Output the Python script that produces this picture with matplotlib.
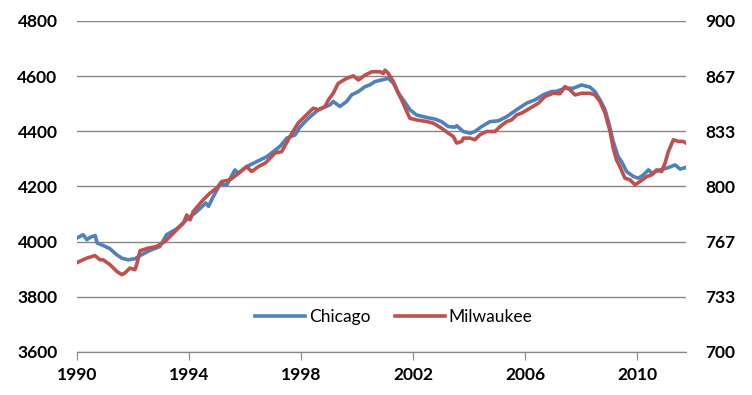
import matplotlib.pyplot as plt
from matplotlib.ticker import FixedLocator

# Chicago (left axis)
chi_year = [1990.0, 1990.22, 1990.35, 1990.5, 1990.65, 1990.72, 1990.93, 1991.18, 1991.42,
            1991.6, 1991.82, 1992.07, 1992.3, 1992.6, 1992.96, 1993.2, 1993.56, 1993.9,
            1994.28, 1994.6, 1994.7, 1994.85, 1995.1, 1995.35, 1995.64, 1995.76, 1996.06,
            1996.42, 1996.78, 1997.01, 1997.25, 1997.49, 1997.79, 1997.96, 1998.26, 1998.62,
            1999.04, 1999.15, 1999.39, 1999.63, 1999.81, 2000.05, 2000.29, 2000.46, 2000.64,
            2000.88, 2001.12, 2001.3, 2001.48, 2001.65, 2001.89, 2002.13, 2002.49, 2002.79,
            2003.02, 2003.26, 2003.5, 2003.56, 2003.8, 2004.04, 2004.21, 2004.45, 2004.75,
            2005.05, 2005.35, 2005.7, 2006.06, 2006.36, 2006.65, 2006.95, 2007.13, 2007.43,
            2007.73, 2008.02, 2008.32, 2008.5, 2008.68, 2008.86, 2009.01, 2009.15, 2009.33,
            2009.45, 2009.63, 2009.87, 2010.05, 2010.23, 2010.41, 2010.53, 2010.82, 2011.06,
            2011.36, 2011.54, 2011.75]
chicago = [4013, 4025, 4007, 4017, 4022, 3995, 3986, 3974, 3952,
           3940, 3934, 3938, 3952, 3968, 3982, 4025, 4046, 4078,
           4109, 4140, 4128, 4160, 4206, 4206, 4260, 4248, 4272,
           4290, 4308, 4326, 4345, 4375, 4387, 4415, 4447, 4478,
           4496, 4508, 4490, 4508, 4532, 4544, 4562, 4568, 4580,
           4586, 4592, 4574, 4538, 4514, 4478, 4459, 4450, 4444,
           4435, 4417, 4415, 4420, 4399, 4393, 4399, 4417, 4435,
           4438, 4453, 4478, 4502, 4514, 4532, 4544, 4545, 4556,
           4556, 4568, 4560, 4544, 4514, 4478, 4423, 4363, 4308,
           4290, 4254, 4236, 4230, 4242, 4260, 4248, 4260, 4266,
           4278, 4263, 4269]

# Milwaukee (right axis)
mil_year = [1990.0, 1990.35, 1990.64, 1990.82, 1990.93, 1991.18, 1991.42, 1991.6, 1991.71,
            1991.89, 1992.07, 1992.13, 1992.25, 1992.54, 1992.84, 1993.14, 1993.44, 1993.8,
            1993.92, 1994.04, 1994.15, 1994.5, 1994.75, 1994.99, 1995.17, 1995.46, 1995.7,
            1996.06, 1996.24, 1996.48, 1996.71, 1996.78, 1997.07, 1997.31, 1997.61, 1997.9,
            1998.26, 1998.44, 1998.62, 1998.86, 1998.98, 1999.15, 1999.33, 1999.63, 1999.87,
            2000.05, 2000.29, 2000.53, 2000.82, 2000.94, 2001.0, 2001.12, 2001.3, 2001.48,
            2001.65, 2001.78, 2001.89, 2002.13, 2002.49, 2002.73, 2003.02, 2003.26, 2003.44,
            2003.56, 2003.74, 2003.8, 2004.04, 2004.21, 2004.39, 2004.63, 2004.93, 2005.11,
            2005.35, 2005.52, 2005.7, 2005.88, 2006.18, 2006.48, 2006.71, 2007.0, 2007.25,
            2007.43, 2007.61, 2007.79, 2008.02, 2008.32, 2008.5, 2008.68, 2008.86, 2009.04,
            2009.15, 2009.27, 2009.39, 2009.57, 2009.75, 2009.93, 2010.11, 2010.35, 2010.53,
            2010.7, 2010.88, 2011.0, 2011.12, 2011.3, 2011.48, 2011.66, 2011.75]
milwaukee = [754.0, 756.7, 758.2, 755.7, 755.7, 752.7, 748.7, 746.7, 747.7,
             750.7, 749.7, 752.7, 761.2, 762.7, 763.7, 766.7, 771.8, 777.8,
             782.8, 779.8, 784.8, 791.8, 796.0, 799.0, 803.0, 804.0, 807.0,
             812.0, 809.0, 812.0, 814.0, 815.0, 820.2, 821.0, 830.2, 838.3,
             844.3, 847.3, 846.3, 848.3, 852.3, 856.3, 862.3, 865.3, 866.8,
             864.3, 867.3, 869.3, 869.3, 868.3, 870.3, 868.3, 863.3, 856.3,
             850.3, 845.2, 841.2, 840.2, 839.2, 838.2, 835.2, 832.2, 830.2,
             826.2, 827.2, 829.2, 829.2, 828.2, 831.2, 833.2, 833.2, 836.2,
             839.2, 840.2, 843.2, 844.3, 847.3, 850.3, 854.3, 856.3, 856.0,
             860.3, 858.3, 855.3, 856.3, 856.3, 855.3, 851.3, 844.3, 833.2,
             823.2, 816.0, 812.0, 805.0, 804.0, 801.0, 803.0, 806.0, 807.0,
             810.0, 809.0, 814.0, 821.0, 828.2, 827.2, 827.2, 826.2]

x_ticks = [1990, 1994, 1998, 2002, 2006, 2010]
left_ticks = [3600, 3800, 4000, 4200, 4400, 4600, 4800]
right_ticks = [700 + 200 * k / 6 for k in range(7)]

plt.rcParams['font.family'] = ['Lato', 'DejaVu Sans']

fig = plt.figure(figsize=(7.52, 3.95), dpi=100)
ax = fig.add_axes([0.1024, 0.109, 0.8098, 0.838])
ax2 = ax.twinx()

blue = '#4F81BD'
red = '#C0504D'

l1, = ax.plot(chi_year, chicago, color=blue, lw=2.6, label='Chicago', solid_joinstyle='round')
l2, = ax2.plot(mil_year, milwaukee, color=red, lw=2.6, label='Milwaukee', solid_joinstyle='round')

ax.set_xlim(1990, 2011.75)
ax.set_ylim(3600, 4800)
ax2.set_ylim(700, 900)

ax.yaxis.set_major_locator(FixedLocator(left_ticks))
ax2.yaxis.set_major_locator(FixedLocator(right_ticks))
ax2.set_yticklabels([f'{v:.0f}' for v in right_ticks])
ax.set_xticks(x_ticks)

ax.grid(axis='y', color='#868686', lw=1)
ax.set_axisbelow(True)

for a in (ax, ax2):
    for s in ('top', 'left', 'right'):
        a.spines[s].set_visible(False)
    a.spines['bottom'].set_color('#868686')

ax.tick_params(axis='y', length=0, labelsize=12.5, pad=14)
ax2.tick_params(axis='y', length=0, labelsize=12.5, pad=14)
ax.tick_params(axis='x', length=6, color='#868686', labelsize=12.5, pad=5)
for lab in ax.get_xticklabels() + ax.get_yticklabels() + ax2.get_yticklabels():
    lab.set_fontweight('bold')

ax2.legend([l1, l2], ['Chicago', 'Milwaukee'], loc='center', bbox_to_anchor=(0.52, 0.106),
           ncol=2, frameon=False, fontsize=12.5, handlelength=2.9, columnspacing=1.4,
           handletextpad=0.2)

plt.savefig('out.png', dpi=100)
